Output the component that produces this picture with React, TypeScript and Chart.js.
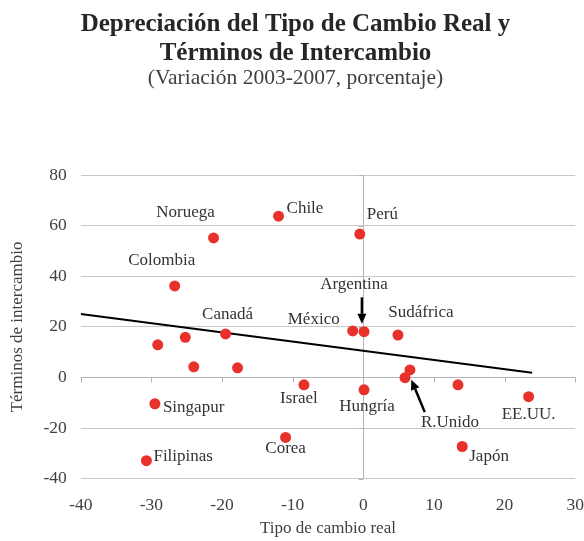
import React, { useEffect, useRef } from 'react';
import { Chart, registerables } from 'chart.js';

Chart.register(...registerables);

// ---- Data ----
const countries = ['Chile', 'Noruega', 'Perú', 'Colombia', 'Canadá', 'México', 'Argentina', 'Sudáfrica', '', '', '', '', 'Israel', 'Hungría', 'R.Unido', '', '', 'EE.UU.', 'Singapur', 'Corea', 'Japón', 'Filipinas'];
const realExchangeRate = [-12.0, -21.2, -0.5, -26.7, -19.5, -1.5, 0.1, 4.9, -25.2, -29.1, -24.0, -17.8, -8.4, 0.1, 6.6, 5.9, 13.4, 23.4, -29.5, -11.0, 14.0, -30.7];
const termsOfTrade = [63.8, 55.2, 56.7, 36.2, 17.2, 18.4, 18.1, 16.8, 15.9, 12.9, 4.2, 3.8, -2.9, -4.9, 3.0, -0.1, -2.9, -7.6, -10.4, -23.7, -27.3, -32.9];

const trendX = [-40, 23.9];
const trendY = [25.1, 1.9];

const arrowLabels = ['Argentina', 'R.Unido'];
const arrowFromX = [-0.2, 8.7];
const arrowFromY = [31.7, -13.7];
const arrowToX = [-0.2, 6.8];
const arrowToY = [21.2, -0.9];

const xMin = -40, xMax = 30, xStep = 10;
const yMin = -40, yMax = 80, yStep = 20;

// label offsets (pixels) relative to each point, and alignment
const labelDx = [8, -28, 7, -13, 2, -39, -10, 23, 0, 0, 0, 0, -5, 3, 40, 0, 0, 0, 8, 0, 7, 7];
const labelDy = [-8, -25, -20, -25, -19, -11, -47, -22, 0, 0, 0, 0, 14, 17, 53, 0, 0, 18, 4, 11, 10, -4];
const labelAlign: CanvasTextAlign[] = ['left', 'center', 'left', 'center', 'center', 'center', 'center', 'center', 'center', 'center', 'center', 'center', 'center', 'center', 'center', 'center', 'center', 'center', 'left', 'center', 'left', 'left'];

const FONT = '"Liberation Serif", "DejaVu Serif", serif';

const annotationPlugin = {
  id: 'annot',
  beforeDatasetsDraw(chart: any) {
    const { ctx, scales } = chart;
    const xs = scales.x, ys = scales.y;
    const x0 = Math.round(xs.getPixelForValue(0)) + 0.5;
    const y0 = Math.round(ys.getPixelForValue(0)) + 0.5;
    ctx.save();
    ctx.strokeStyle = '#b4b4bb';
    ctx.lineWidth = 1;
    ctx.beginPath();
    ctx.moveTo(xs.left, y0);
    ctx.lineTo(xs.right, y0);
    for (let v = xMin; v <= xMax; v += xStep) {
      const px = Math.round(xs.getPixelForValue(v)) + 0.5;
      ctx.moveTo(px, y0);
      ctx.lineTo(px, y0 + 5);
    }
    for (let v = yMin; v <= yMax; v += yStep) {
      const py = Math.round(ys.getPixelForValue(v)) + 0.5;
      ctx.moveTo(x0, py);
      ctx.lineTo(x0 - 5, py);
    }
    ctx.stroke();
    ctx.restore();
  },
  afterDatasetsDraw(chart: any) {
    const { ctx, scales } = chart;
    const xs = scales.x, ys = scales.y;
    ctx.save();
    ctx.font = '17px ' + FONT;
    ctx.fillStyle = '#333333';
    ctx.textBaseline = 'middle';
    countries.forEach((name, i) => {
      if (!name) return;
      const px = xs.getPixelForValue(realExchangeRate[i]);
      const py = ys.getPixelForValue(termsOfTrade[i]);
      ctx.textAlign = labelAlign[i];
      ctx.fillText(name, px + labelDx[i], py + labelDy[i]);
    });
    ctx.strokeStyle = '#000';
    ctx.fillStyle = '#000';
    ctx.lineWidth = 2.5;
    arrowLabels.forEach((_, i) => {
      const fx = xs.getPixelForValue(arrowFromX[i]);
      const fy = ys.getPixelForValue(arrowFromY[i]);
      const tx = xs.getPixelForValue(arrowToX[i]);
      const ty = ys.getPixelForValue(arrowToY[i]);
      const ang = Math.atan2(ty - fy, tx - fx);
      const headLen = 10, headW = 4.5;
      const bx = tx - headLen * Math.cos(ang);
      const by = ty - headLen * Math.sin(ang);
      ctx.beginPath();
      ctx.moveTo(fx, fy);
      ctx.lineTo(bx, by);
      ctx.stroke();
      ctx.beginPath();
      ctx.moveTo(tx, ty);
      ctx.lineTo(bx + headW * Math.sin(ang), by - headW * Math.cos(ang));
      ctx.lineTo(bx - headW * Math.sin(ang), by + headW * Math.cos(ang));
      ctx.closePath();
      ctx.fill();
    });
    ctx.restore();
  },
};

export default function App() {
  const ref = useRef<HTMLCanvasElement>(null);
  useEffect(() => {
    if (!ref.current) return;
    const points = realExchangeRate.map((x, i) => ({ x, y: termsOfTrade[i] }));
    const trend = trendX.map((x, i) => ({ x, y: trendY[i] }));
    const chart = new Chart(ref.current, {
      type: 'scatter',
      data: {
        datasets: [
          {
            label: 'Países',
            data: points,
            backgroundColor: '#e8312a',
            borderWidth: 0,
            pointRadius: 5.5,
            order: 0,
          },
          {
            label: 'Tendencia',
            data: trend,
            showLine: true,
            borderColor: '#000',
            borderWidth: 2,
            pointRadius: 0,
            order: 1,
          } as any,
        ],
      },
      options: {
        animation: false,
        responsive: true,
        maintainAspectRatio: false,
        layout: { padding: { left: 7, right: 0, top: 0, bottom: 0 } },
        plugins: {
          legend: { display: false },
          tooltip: { enabled: false },
          title: {
            display: true,
            text: ['Depreciación del Tipo de Cambio Real y', 'Términos de Intercambio'],
            color: '#262626',
            font: { family: FONT, size: 25, weight: 'bold', lineHeight: 1.16 },
            padding: { top: 10, bottom: 0 },
          },
          subtitle: {
            display: true,
            text: '(Variación 2003-2007, porcentaje)',
            color: '#404040',
            font: { family: FONT, size: 21.5, weight: 'normal', lineHeight: 1.0 },
            padding: { top: 0, bottom: 85.7 },
          },
        },
        scales: {
          x: {
            type: 'linear',
            min: xMin,
            max: xMax,
            ticks: { stepSize: xStep, color: '#404040', font: { family: FONT, size: 17.5 }, padding: 0 },
            grid: {
              color: (c: any) => (c.tick && c.tick.value === 0 ? '#b4b4bb' : 'rgba(0,0,0,0)'),
              drawTicks: true,
              tickLength: 16,
              tickColor: 'rgba(0,0,0,0)',
            },
            border: { display: false },
            title: { display: true, text: 'Tipo de cambio real', color: '#404040', font: { family: FONT, size: 17 }, padding: { top: 3, bottom: 2 } },
          },
          y: {
            type: 'linear',
            min: yMin,
            max: yMax,
            ticks: { stepSize: yStep, color: '#404040', font: { family: FONT, size: 17.5 }, padding: 0 },
            grid: { color: '#c8c8c8', drawTicks: true, tickLength: 14, tickColor: 'rgba(0,0,0,0)' },
            border: { display: false },
            title: { display: true, text: 'Términos de intercambio', color: '#404040', font: { family: FONT, size: 17 }, padding: { top: 0, bottom: 16 } },
          },
        },
      },
      plugins: [annotationPlugin],
    });
    return () => chart.destroy();
  }, []);
  return (
    <div style={{ position: 'absolute', left: 0, top: 0, width: 584, height: 541, background: '#fff' }}>
      <canvas ref={ref} />
    </div>
  );
}
